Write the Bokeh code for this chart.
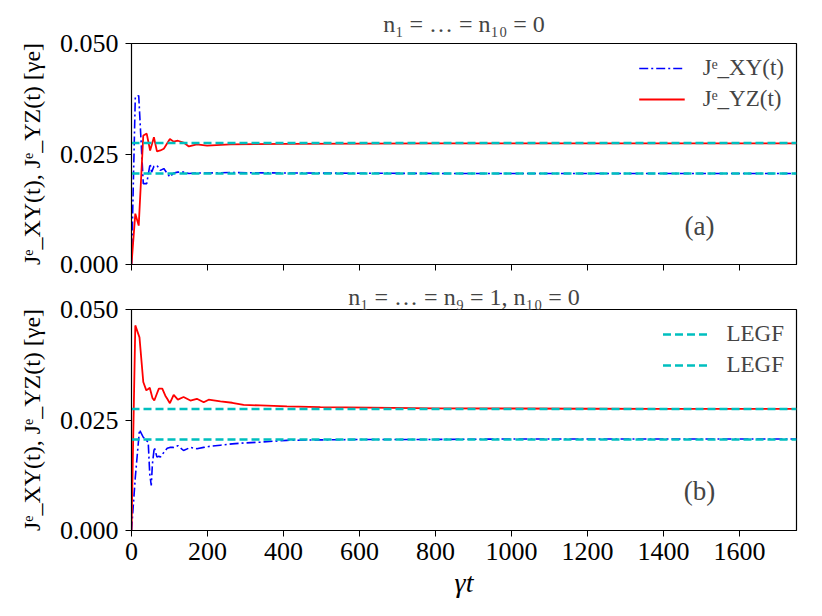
from bokeh.plotting import figure
from bokeh.layouts import column
from bokeh.models import (FixedTicker, NumeralTickFormatter, Label, Legend,
                          LegendItem, Range1d)
from bokeh.embed import file_html
from bokeh.resources import INLINE

# ---------------- data ----------------
t_a = [0, 10, 19, 31, 40, 49, 53, 59, 67, 76, 85, 101, 111, 122, 137, 151,
       172, 199, 260, 400, 800, 1200, 1750]
jyz_a = [0.0, 0.0115, 0.0088, 0.0292, 0.0296, 0.0258, 0.0270, 0.0288, 0.0256,
         0.0258, 0.0262, 0.0284, 0.0278, 0.0280, 0.0276, 0.0267, 0.0272,
         0.0269, 0.0272, 0.0273, 0.0274, 0.0274, 0.0274]
jxy_a = [0.0, 0.0379, 0.0382, 0.0183, 0.0183, 0.0228, 0.0209, 0.0222, 0.0224,
         0.0213, 0.0217, 0.0198, 0.0207, 0.0209, 0.0209, 0.0206, 0.0207,
         0.0207, 0.0208, 0.0207, 0.0206, 0.0206, 0.0206]

t_b = [0, 10, 21, 31, 39, 44, 48, 52, 55, 60, 67, 72, 76, 81, 89, 94, 101,
       111, 122, 137, 155, 172, 190, 203, 234, 265, 295, 339, 409, 497, 628,
       800, 1000, 1200, 1400, 1750]
jyz_b = [0.0, 0.0464, 0.0437, 0.0336, 0.0317, 0.0320, 0.0323, 0.0310, 0.0300,
         0.0294, 0.0310, 0.0321, 0.0321, 0.0321, 0.0305, 0.0298, 0.0288,
         0.0307, 0.0296, 0.0302, 0.0294, 0.0298, 0.0290, 0.0296, 0.0292,
         0.0289, 0.0284, 0.0283, 0.0281, 0.0279, 0.0278, 0.02765, 0.0276,
         0.02755, 0.0275, 0.0275]
jxy_b = [0.0, 0.0120, 0.0228, 0.0211, 0.0204, 0.0200, 0.0128, 0.0102, 0.0150,
         0.0188, 0.0166, 0.0168, 0.0166, 0.0172, 0.0181, 0.0186, 0.0188,
         0.0188, 0.0192, 0.0181, 0.0188, 0.0185, 0.0188, 0.0190, 0.0193,
         0.0196, 0.0198, 0.0200, 0.0204, 0.0205, 0.0206, 0.0206, 0.0207,
         0.0207, 0.0207, 0.0207]

legf_t = [0, 1750]
legf_yz = [0.0275, 0.0275]
legf_xy = [0.0206, 0.0206]

x_ticks = [0, 200, 400, 600, 800, 1000, 1200, 1400, 1600]
y_ticks = [0.0, 0.025, 0.05]

title_a = "n\u2081 = \u2026 = n\u2081\u2080 = 0"
title_b = "n\u2081 = \u2026 = n\u2089 = 1, n\u2081\u2080 = 0"
ylabel = "J\u1d49_XY(t), J\u1d49_YZ(t) [\u03b3e]"
xlabel = "\u03b3t"

SERIF = "Liberation Serif"
BLUE = "#0000ff"
RED = "#ff0000"
CYAN = "#00bfbf"

x_range = Range1d(0, 1750)


def make_fig(title, show_xlabels, top_border, bottom_border, standoff):
    p = figure(output_backend="svg", toolbar_location=None,
               frame_width=665, frame_height=221,
               x_range=x_range, y_range=Range1d(0, 0.05),
               min_border_left=131, min_border_right=10,
               min_border_top=top_border, min_border_bottom=bottom_border,
               title=title)
    p.title.align = "center"
    p.title.text_font = SERIF
    p.title.text_font_size = "24px"
    p.title.text_font_style = "normal"
    p.title.standoff = standoff
    p.outline_line_color = "black"
    p.outline_line_width = 1.2
    p.xgrid.visible = False
    p.ygrid.visible = False
    for ax in (p.xaxis[0], p.yaxis[0]):
        ax.major_tick_in = 0
        ax.major_tick_out = 6
        ax.minor_tick_line_color = None
        ax.axis_line_color = "black"
        ax.major_tick_line_color = "black"
        ax.major_label_text_font = SERIF
        ax.major_label_text_font_size = "26px"
        ax.major_label_text_color = "black"
        ax.axis_label_text_font = SERIF
        ax.axis_label_text_color = "black"
    p.xaxis.ticker = FixedTicker(ticks=x_ticks)
    p.yaxis.ticker = FixedTicker(ticks=y_ticks)
    p.yaxis.formatter = NumeralTickFormatter(format="0.000")
    p.yaxis.axis_label = ylabel
    p.yaxis.axis_label_text_font_size = "24px"
    p.yaxis.axis_label_text_font_style = "normal"
    p.yaxis.major_label_standoff = 7
    p.yaxis.axis_label_standoff = 12
    if show_xlabels:
        p.xaxis.axis_label = xlabel
        p.xaxis.axis_label_text_font_size = "28px"
        p.xaxis.axis_label_text_font_style = "italic"
        p.xaxis.major_label_standoff = 6
        p.xaxis.axis_label_standoff = 4
    else:
        p.xaxis.major_label_overrides = {t: "" for t in x_ticks}
        p.xaxis.major_label_standoff = 0
    return p


# ---------------- panel (a) ----------------
p1 = make_fig(title_a, False, 43, 15, 14)
r_xy_a = p1.line(t_a, jxy_a, line_color=BLUE, line_width=1.6,
                 line_dash="9 3 2 3")
r_yz_a = p1.line(t_a, jyz_a, line_color=RED, line_width=1.8)
p1.line(legf_t, legf_yz, line_color=CYAN, line_width=2.4, line_dash="8 4")
p1.line(legf_t, legf_xy, line_color=CYAN, line_width=2.4, line_dash="8 4")
leg1 = Legend(items=[LegendItem(label="J\u1d49_XY(t)", renderers=[r_xy_a]),
                     LegendItem(label="J\u1d49_YZ(t)", renderers=[r_yz_a])],
              location="top_right")
p1.add_layout(leg1)
p1.add_layout(Label(x=1495, y=0.0088, text="(a)", text_align="center",
                    text_baseline="middle", text_font=SERIF,
                    text_font_size="27px"))

# ---------------- panel (b) ----------------
p2 = make_fig(title_b, True, 30, 70, 0)
p2.line(t_b, jxy_b, line_color=BLUE, line_width=1.6, line_dash="9 3 2 3")
p2.line(t_b, jyz_b, line_color=RED, line_width=1.8)
r_l1 = p2.line(legf_t, legf_yz, line_color=CYAN, line_width=2.4,
               line_dash="8 4")
r_l2 = p2.line(legf_t, legf_xy, line_color=CYAN, line_width=2.4,
               line_dash="8 4")
leg2 = Legend(items=[LegendItem(label="LEGF", renderers=[r_l1]),
                     LegendItem(label="LEGF", renderers=[r_l2])],
              location="top_right")
p2.add_layout(leg2)
p2.add_layout(Label(x=1495, y=0.009, text="(b)", text_align="center",
                    text_baseline="middle", text_font=SERIF,
                    text_font_size="27px"))

for lg in (leg1, leg2):
    lg.border_line_color = None
    lg.background_fill_alpha = 0
    lg.label_text_font = SERIF
    lg.label_text_font_size = "23px"
    lg.glyph_width = 46
    lg.label_standoff = 18
    lg.spacing = 5
    lg.padding = 20
    lg.margin = 12

layout = column(p1, p2, spacing=0)
open("out.html", "w").write(file_html(layout, INLINE))
